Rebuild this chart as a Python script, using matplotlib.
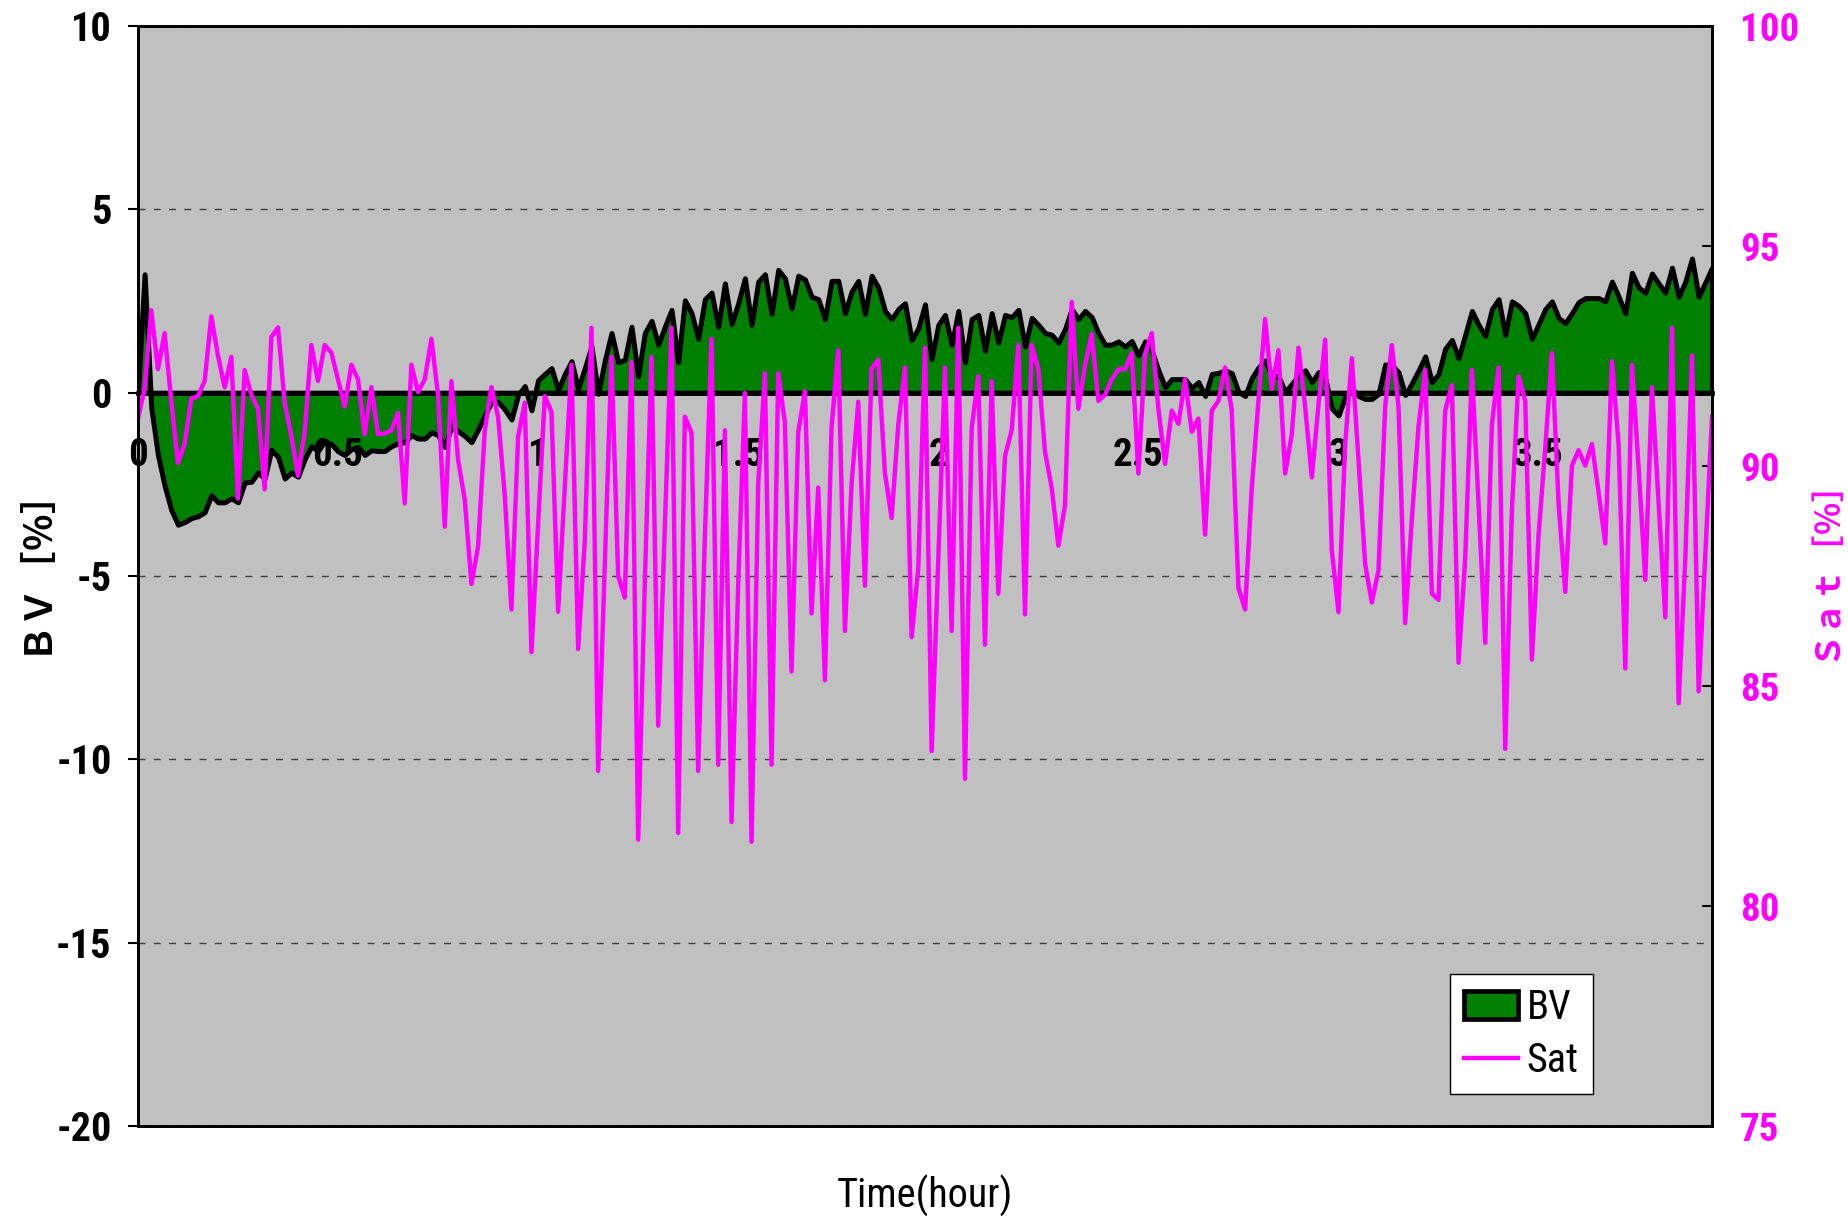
import numpy as np
import matplotlib.pyplot as plt
from matplotlib import font_manager as fm
from matplotlib.patches import Patch
from matplotlib.lines import Line2D

# pick a narrow sans face if the system has one
wanted = ['Liberation Sans Narrow', 'Roboto Condensed', 'Open Sans Condensed',
          'DejaVu Sans Condensed']
have = {f.name for f in fm.fontManager.ttflist}
narrow = next((n for n in wanted if n in have), None)
if narrow is None:
    cond = [f.name for f in fm.fontManager.ttflist
            if str(f.stretch) in ('condensed', 'semi-condensed')]
    if cond:
        narrow = cond[0]
        plt.rcParams['font.stretch'] = 'condensed'
plt.rcParams['font.family'] = ([narrow] if narrow else []) + ['Noto Sans CJK JP', 'DejaVu Sans']
plt.rcParams['axes.unicode_minus'] = False

# blood volume change [%], one sample per minute
bv = [0.00, 3.23, -0.41, -1.70, -2.54, -3.20, -3.60, -3.53, -3.42, -3.37,
      -3.26, -2.80, -2.99, -2.99, -2.88, -2.99, -2.45, -2.43, -2.18, -2.34,
      -1.56, -1.75, -2.34, -2.18, -2.29, -1.81, -1.46, -1.59, -1.32, -1.40,
      -1.60, -1.70, -1.54, -1.48, -1.70, -1.57, -1.59, -1.59, -1.46, -1.38,
      -1.35, -1.16, -1.25, -1.25, -1.08, -1.16, -1.48, -0.92, -1.05, -1.18,
      -1.35, -1.00, -0.62, -0.25, -0.25, -0.46, -0.73, -0.06, 0.18, -0.48,
      0.34, 0.51, 0.67, 0.08, 0.51, 0.86, 0.11, 0.67, 1.26, -0.03,
      0.88, 1.63, 0.83, 0.90, 1.80, 0.45, 1.63, 1.96, 1.31, 1.80,
      2.26, 0.83, 2.52, 2.17, 1.47, 2.55, 2.73, 1.80, 2.98, 1.87,
      2.44, 3.12, 1.85, 3.03, 3.23, 2.15, 3.35, 3.12, 2.30, 3.19,
      3.09, 2.62, 2.55, 2.01, 3.05, 3.05, 2.17, 2.76, 3.05, 2.15,
      3.19, 2.87, 2.23, 2.01, 2.28, 2.44, 1.44, 1.76, 2.41, 0.92,
      1.85, 2.12, 1.31, 2.23, 0.83, 2.01, 2.12, 1.15, 2.17, 1.37,
      2.12, 2.06, 2.26, 1.26, 2.04, 1.85, 1.63, 1.58, 1.37, 1.74,
      2.28, 2.01, 2.23, 2.06, 1.63, 1.31, 1.31, 1.40, 1.26, 1.41,
      1.02, 1.40, 1.15, 0.61, 0.15, 0.37, 0.37, 0.37, 0.13, 0.29,
      -0.09, 0.51, 0.54, 0.61, 0.53, 0.02, -0.09, 0.40, 0.69, 0.88,
      0.47, 0.45, 0.02, 0.24, 0.47, 0.61, 0.29, 0.56, 0.40, -0.43,
      -0.62, -0.11, 0.13, -0.09, -0.17, -0.17, -0.03, 0.77, 0.75, 0.56,
      -0.06, 0.26, 0.61, 0.99, 0.29, 0.51, 1.20, 1.44, 0.94, 1.58,
      2.23, 1.85, 1.55, 2.28, 2.55, 1.58, 2.49, 2.37, 2.17, 1.47,
      1.87, 2.28, 2.49, 2.04, 1.90, 2.17, 2.47, 2.58, 2.58, 2.58,
      2.49, 3.03, 2.62, 2.17, 3.27, 2.87, 2.73, 3.25, 2.98, 2.73,
      3.41, 2.62, 3.03, 3.66, 2.62, 3.01, 3.41]

# oxygen saturation [%]
sat = [91.08, 91.75, 93.54, 92.20, 93.02, 91.48, 90.07, 90.50, 91.53, 91.59,
       91.93, 93.40, 92.51, 91.79, 92.48, 89.26, 92.18, 91.62, 91.30, 89.47,
       92.93, 93.15, 91.44, 90.68, 89.78, 90.77, 92.75, 91.93, 92.75, 92.58,
       91.97, 91.35, 92.30, 91.97, 90.72, 91.79, 90.72, 90.74, 90.81, 91.21,
       89.15, 92.30, 91.68, 91.97, 92.89, 91.61, 88.62, 91.93, 90.14, 89.24,
       87.32, 88.17, 90.81, 91.79, 91.12, 89.33, 86.74, 90.67, 91.44, 85.77,
       88.68, 91.59, 91.23, 86.69, 89.53, 92.30, 85.84, 88.30, 93.14, 83.07,
       87.78, 92.48, 87.50, 87.01, 92.36, 81.51, 87.37, 92.48, 84.10, 88.62,
       93.14, 81.66, 91.12, 90.76, 83.07, 88.38, 92.89, 83.21, 90.81, 81.91,
       87.32, 91.66, 81.46, 89.60, 92.11, 83.21, 92.11, 90.99, 85.33, 90.77,
       91.70, 86.65, 89.51, 85.13, 90.90, 92.63, 86.25, 89.60, 91.46, 87.28,
       92.21, 92.42, 89.83, 88.82, 90.94, 92.24, 86.11, 87.68, 92.69, 83.52,
       87.89, 92.24, 86.25, 93.14, 82.89, 90.86, 92.04, 85.94, 91.93, 87.10,
       90.23, 90.81, 92.75, 86.63, 92.75, 92.20, 90.32, 89.51, 88.19, 89.11,
       93.73, 91.30, 92.29, 93.00, 91.48, 91.62, 91.97, 92.20, 92.20, 92.57,
       89.83, 92.54, 93.02, 91.30, 90.05, 91.26, 90.96, 91.97, 90.78, 91.08,
       88.44, 91.26, 91.48, 92.24, 91.26, 87.23, 86.74, 89.51, 91.48, 93.34,
       91.75, 92.63, 89.83, 90.72, 92.69, 91.35, 89.74, 91.39, 92.87, 88.08,
       86.68, 90.50, 92.45, 90.14, 87.77, 86.90, 87.63, 91.35, 92.75, 91.35,
       86.43, 88.80, 90.90, 92.18, 87.10, 86.96, 91.26, 91.84, 85.53, 87.90,
       92.18, 89.15, 85.98, 90.94, 92.24, 83.57, 88.98, 92.04, 91.48, 85.60,
       88.44, 90.41, 92.57, 89.15, 87.14, 90.01, 90.36, 90.01, 90.50, 89.40,
       88.24, 92.38, 90.50, 85.40, 92.30, 89.96, 87.41, 91.79, 89.15, 86.56,
       93.14, 84.61, 87.90, 92.51, 84.88, 87.99, 91.12]

hours = np.arange(len(bv)) / 60.0

bv_ticks = [-20, -15, -10, -5, 0, 5, 10]
sat_ticks = [75, 80, 85, 90, 95, 100]
hour_ticks = [0, 0.5, 1, 1.5, 2, 2.5, 3, 3.5]
hour_labels = ['0', '0.5', '1', '1.5', '2', '2.5', '3', '3.5']

GREEN = '#008000'
MAGENTA = '#ff00ff'
CJK = ['Noto Sans CJK JP', 'DejaVu Sans']

fig = plt.figure(figsize=(18.49, 12.16), dpi=100)
ax = fig.add_axes([0.0746, 0.074, 0.8513, 0.9046])
ax.set_facecolor('#c0c0c0')

ax.fill_between(hours, 0, bv, facecolor=GREEN, edgecolor='black',
                linewidth=3.6, zorder=2)
ax.set_xlim(0, hours[-1])
ax.set_ylim(-20, 10)
ax.set_yticks(bv_ticks)
ax.set_xticks(hour_ticks)
ax.yaxis.grid(True, linestyle=(0, (5, 6)), color='#404040', linewidth=1)
ax.set_axisbelow(True)
ax.tick_params(axis='y', direction='out', length=7, width=1.5, pad=12,
               labelsize=29)
for lab in ax.get_yticklabels():
    lab.set_fontweight('bold')
ax.tick_params(axis='x', bottom=False, labelbottom=False)
for sp in ax.spines.values():
    sp.set_linewidth(2)

ax.set_xlabel('Time(hour)', fontsize=29, labelpad=35)
ax.set_ylabel('ＢＶ［％］', fontsize=27, fontweight='bold', family=CJK)
ax.yaxis.set_label_coords(-0.054, 0.514)

# hour labels hang under the zero line
ymin, ymax = ax.get_ylim()
zero = ax.secondary_xaxis((0 - ymin) / (ymax - ymin))
zero.set_alignment('bottom')
zero.set_xticks(hour_ticks, labels=hour_labels)
zero.tick_params(length=0, pad=32, labelsize=28)
for lab in zero.get_xticklabels():
    lab.set_fontweight('bold')
zero.spines['bottom'].set_linewidth(3.4)
zero.set_zorder(3)

ax2 = ax.twinx()
ax2.plot(hours, sat, color=MAGENTA, linewidth=3.2)
ax2.set_ylim(75, 100)
ax2.set_yticks(sat_ticks)
ax2.tick_params(axis='y', direction='in', length=7, width=1.5, pad=20,
                labelsize=28, labelcolor=MAGENTA)
for lab in ax2.get_yticklabels():
    lab.set_fontweight('bold')
for sp in ax2.spines.values():
    sp.set_linewidth(2)
ax2.set_ylabel('Ｓａｔ［％］', fontsize=24, fontweight='bold', color=MAGENTA,
               family=CJK)
ax2.yaxis.set_label_coords(1.061, 0.514)

handles = [Patch(facecolor=GREEN, edgecolor='black', linewidth=3.4),
           Line2D([], [], color=MAGENTA, linewidth=3.2)]
leg = ax2.legend(handles, ['BV', 'Sat'], loc='lower left',
                 bbox_to_anchor=(0.8335, 0.029), borderaxespad=0, fontsize=29,
                 fancybox=False, framealpha=1, edgecolor='black',
                 borderpad=0.35, handlelength=1.35, handleheight=0.7,
                 handletextpad=0.2, labelspacing=0.35)
leg.get_frame().set_linewidth(1)

fig.savefig('out.png', dpi=100)
